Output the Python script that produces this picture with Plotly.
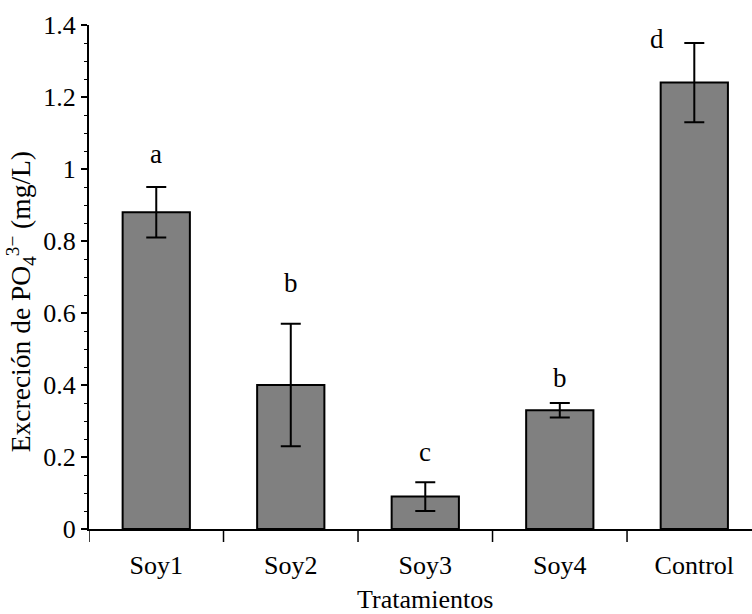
import plotly.graph_objects as go

categories = ["Soy1", "Soy2", "Soy3", "Soy4", "Control"]
means = [0.88, 0.40, 0.09, 0.33, 1.24]
errors = [0.07, 0.17, 0.04, 0.02, 0.11]
letters = ["a", "b", "c", "b", "d"]
letter_y = [1.014, 0.656, 0.186, 0.392, 1.332]
letter_x = [0, 1, 2, 3, 3.72]

FONT = "Liberation Serif, Times New Roman, serif"

fig = go.Figure()
fig.add_trace(go.Bar(
    x=list(range(len(categories))), y=means, width=0.5,
    marker=dict(color="#808080", line=dict(color="black", width=2)),
    error_y=dict(type="data", array=errors, visible=True,
                 color="black", thickness=2, width=10),
))

for lx, ly, t in zip(letter_x, letter_y, letters):
    fig.add_annotation(x=lx, y=ly, xref="x", yref="y", text=t, showarrow=False,
                       yanchor="bottom", yshift=-7,
                       font=dict(family=FONT, size=27, color="black"))

fig.add_annotation(x=2, y=0, xref="x", yref="paper", text="Tratamientos",
                   showarrow=False, yanchor="middle", yshift=-70,
                   font=dict(family=FONT, size=26, color="black"))
fig.add_annotation(x=0, y=0.45, xref="paper", yref="paper",
                   text="Excreción de PO<sub>4</sub><sup>3−</sup> (mg/L)",
                   textangle=-90, showarrow=False, xanchor="center",
                   yanchor="middle", xshift=-68,
                   font=dict(family=FONT, size=27.5, color="black"))

fig.update_layout(
    width=752, height=614,
    margin=dict(l=89, r=0, t=25, b=85),
    paper_bgcolor="white", plot_bgcolor="white",
    showlegend=False,
    font=dict(family=FONT, size=26, color="black"),
)
fig.update_xaxes(
    tickmode="array", tickvals=list(range(len(categories))), ticktext=categories,
    range=[-0.5, 4.429], showline=True, linecolor="black", linewidth=2,
    ticks="", showgrid=False, zeroline=False, ticklabelstandoff=12,
    tickfont=dict(family=FONT, size=26),
)
fig.update_yaxes(
    range=[0, 1.4], dtick=0.2, tick0=0, showline=True, linecolor="black",
    linewidth=2, ticks="outside", ticklen=6, tickwidth=1.5, tickcolor="black",
    showgrid=False, zeroline=False, tickfont=dict(family=FONT, size=26),
    minor=dict(dtick=0.05, ticks="outside", ticklen=3, tickwidth=1, tickcolor="black"),
)

# category boundary ticks
boundaries = [-0.5, 0.5, 1.5, 2.5, 3.5]
fig.update_layout(shapes=[
    dict(type="line", xref="x", yref="paper", x0=b, x1=b,
         ysizemode="pixel", yanchor=0, y0=0, y1=-13,
         line=dict(color="black", width=1.5))
    for b in boundaries
])

fig.write_html("out.html")
